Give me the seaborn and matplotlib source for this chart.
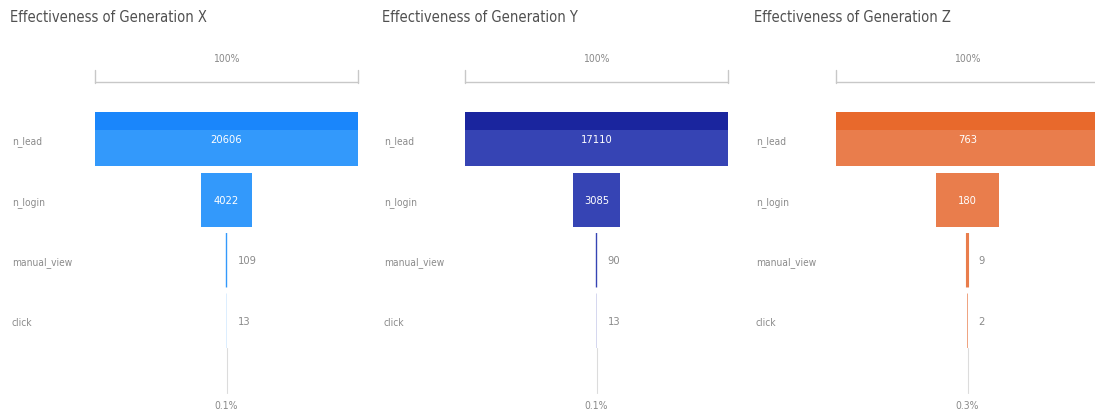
import matplotlib
matplotlib.use("Agg")
import matplotlib.pyplot as plt
from matplotlib.patches import Rectangle
import seaborn as sns
import pandas as pd
import numpy as np

stages = ["n_lead", "n_login", "manual_view", "click"]
gen_x = [20606, 4022, 109, 13]
gen_y = [17110, 3085, 90, 13]
gen_z = [763, 180, 9, 2]
titles = ["Effectiveness of Generation X", "Effectiveness of Generation Y", "Effectiveness of Generation Z"]
top_labels = ["100%", "100%", "100%"]
bottom_labels = ["0.1%", "0.1%", "0.3%"]
colors = ["#3399fb", "#3644b4", "#e97d4c"]
dark_colors = ["#1a86fb", "#1a259e", "#e8692c"]

sns.set_theme(style="white")
plt.rcParams["font.family"] = ["DejaVu Sans"]
plt.rcParams["font.stretch"] = "condensed"

W, H = 1095, 410
fig = plt.figure(figsize=(W / 100, H / 100), dpi=100)

panels = [
    (gen_x, 95, 10),
    (gen_y, 465, 382),
    (gen_z, 836, 754),
]
bar_w = 263
row_top, row_bot = 110, 352

for i, (vals, left_px, title_px) in enumerate(panels):
    ax = fig.add_axes([left_px / W, 1 - row_bot / H, bar_w / W, (row_bot - row_top) / H])
    df = pd.DataFrame({"stage": stages, "value": vals})
    sns.barplot(data=df, x="value", y="stage", orient="h", color=colors[i],
                width=0.9, saturation=1, ax=ax, linewidth=0)
    vmax = max(vals)
    # center bars (funnel)
    for p in ax.patches:
        w = p.get_width()
        p.set_x(-w / 2)
        if w / vmax < 0.05:
            p.set_snap(False)
    # darker top strip on the first (highlighted) bar
    first = ax.patches[0]
    strip = Rectangle((first.get_x(), first.get_y()), first.get_width(),
                      first.get_height() * 0.33, color=dark_colors[i], lw=0, zorder=first.get_zorder() + 0.1)
    ax.add_patch(strip)
    ax.set_xlim(-vmax / 2, vmax / 2)
    ax.set_ylim(3.5, -0.5)
    for s in ax.spines.values():
        s.set_visible(False)
    ax.set_xticks([])
    ax.set_xlabel("")
    ax.set_ylabel("")
    ax.tick_params(axis="y", length=0, pad=(left_px - title_px - 2) * 0.72, labelsize=7.3,
                   labelcolor="#8a8a8a")
    for lab in ax.get_yticklabels():
        lab.set_ha("left")
    # value labels
    for j, v in enumerate(vals):
        if v / vmax > 0.1:
            ax.text(0, j, str(v), ha="center", va="center", color="white", fontsize=8, zorder=5)
        else:
            ax.annotate(str(v), (0, j), xytext=(8, 0), textcoords="offset points",
                        ha="left", va="center", color="#8a8a8a", fontsize=8)
    # top bracket line
    ax.plot([-vmax / 2, vmax / 2], [-0.95, -0.95], color="#c8c8c8", lw=1, clip_on=False)
    for xe in (-vmax / 2, vmax / 2):
        ax.plot([xe, xe], [-1.15, -0.93], color="#c8c8c8", lw=1, clip_on=False)
    ax.text(0, -1.34, top_labels[i], ha="center", va="center", color="#8a8a8a", fontsize=7.5)
    # bottom connector
    ax.plot([0, 0], [3.45, 4.2], color="#dcdcdc", lw=0.8, clip_on=False)
    ax.text(0, 4.4, bottom_labels[i], ha="center", va="center", color="#8a8a8a", fontsize=7.5)
    # title
    fig.text(title_px / W, 1 - 18 / H, titles[i], ha="left", va="center",
             color="#505050", fontsize=10.5)

fig.savefig("out.png", dpi=100, facecolor="white")
